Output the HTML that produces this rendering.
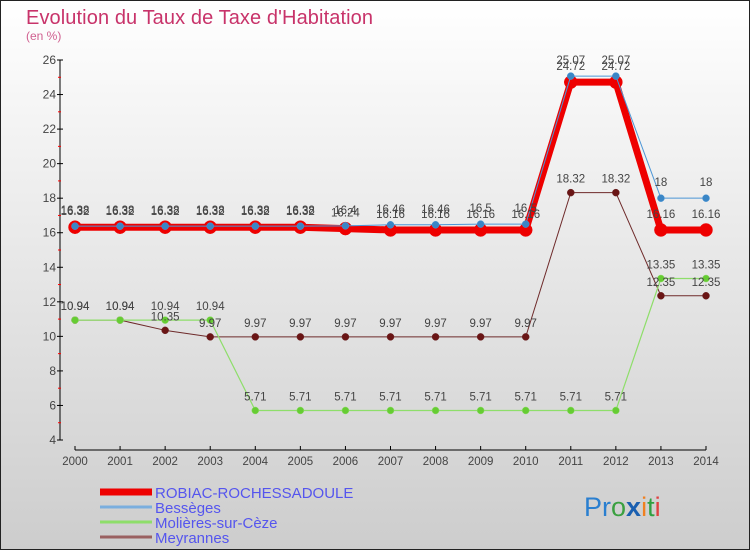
<!DOCTYPE html>
<html><head><meta charset="utf-8">
<style>
body{margin:0;padding:0}
#wrap{width:750px;height:550px;position:relative;overflow:hidden;font-family:"Liberation Sans","DejaVu Sans",sans-serif}
svg text{font-family:"Liberation Sans","DejaVu Sans",sans-serif}
</style></head>
<body>
<div id="wrap">
<svg id="chart" width="750" height="550" xmlns="http://www.w3.org/2000/svg">
<defs>
<linearGradient id="bg" x1="0" y1="0" x2="0" y2="1">
<stop offset="0" stop-color="#ffffff"/><stop offset="1" stop-color="#cdcdcd"/>
</linearGradient>
</defs>
<rect x="0.5" y="0.5" width="749" height="549" fill="url(#bg)" stroke="#222"/>
<text x="26" y="24" font-size="20" fill="#c8336a" textLength="347">Evolution du Taux de Taxe d'Habitation</text>
<text x="26" y="40" font-size="12" fill="#d06090">(en %)</text>
<g id="axes"></g>
<g id="series"></g>
<g id="labels"></g>
<g id="legend"></g>
<text x="584" y="516" font-size="27"><tspan fill="#2a7fd0">Pr</tspan><tspan fill="#3aa040">o</tspan><tspan fill="#1a5fb0" font-weight="bold">x</tspan><tspan fill="#f08020">i</tspan><tspan fill="#30a040">t</tspan><tspan fill="#e04040">i</tspan></text>
</svg>
</div>
<script>
const years = [2000,2001,2002,2003,2004,2005,2006,2007,2008,2009,2010,2011,2012,2013,2014];
const robiac = [16.32,16.32,16.32,16.32,16.32,16.32,16.24,16.16,16.16,16.16,16.16,24.72,24.72,16.16,16.16];
const besseges = [16.38,16.38,16.38,16.38,16.38,16.38,16.4,16.46,16.46,16.5,16.5,25.07,25.07,18,18];
const molieres = [10.94,10.94,10.94,10.94,5.71,5.71,5.71,5.71,5.71,5.71,5.71,5.71,5.71,13.35,13.35];
const meyrannes = [10.94,10.94,10.35,9.97,9.97,9.97,9.97,9.97,9.97,9.97,9.97,18.32,18.32,12.35,12.35];
const yTicks = [4,6,8,10,12,14,16,18,20,22,24,26];
const seriesNames = ["ROBIAC-ROCHESSADOULE","Bessèges","Molières-sur-Cèze","Meyrannes"];

const NS="http://www.w3.org/2000/svg";
const X0=75, X1=706, Y0=440, Y1=60, YMIN=4, YMAX=26;
function xs(i){return X0+(X1-X0)*i/(years.length-1);}
function ys(v){return Y0-(v-YMIN)*(Y0-Y1)/(YMAX-YMIN);}
function mk(tag,attrs,parent){const e=document.createElementNS(NS,tag);for(const k in attrs)e.setAttribute(k,attrs[k]);parent.appendChild(e);return e;}

const axes=document.getElementById('axes');
let yl=mk('line',{x1:60,y1:Y1,x2:60,y2:Y0,stroke:'#000','stroke-width':1},axes);


let xl=mk('line',{x1:X0,y1:450,x2:X1,y2:450,stroke:'#000','stroke-width':1},axes);


yTicks.forEach(t=>{
  const y=ys(t);
  mk('line',{x1:57,y1:y,x2:63,y2:y,stroke:'#000'},axes);
  if(t<YMAX) mk('line',{x1:58,y1:ys(t+1),x2:61,y2:ys(t+1),stroke:'#f00'},axes);
  const tx=mk('text',{x:56,y:y+4,'font-size':12,'text-anchor':'end',fill:'#444'},axes);
  tx.textContent=t;
  
  
});
years.forEach((yr,i)=>{
  const x=xs(i);
  mk('line',{x1:x,y1:446,x2:x,y2:450,stroke:'#000'},axes);
  const tx=mk('text',{x:x,y:465,'font-size':11.5,'text-anchor':'middle',fill:'#444'},axes);
  tx.textContent=yr;
  
  
});

const sg=document.getElementById('series'), lg=document.getElementById('labels');
function draw(vals,color,width,r,fill,name,labelDy){
  const pts=vals.map((v,i)=>xs(i)+','+ys(v)).join(' ');
  const pl=mk('polyline',{points:pts,fill:'none',stroke:color,'stroke-width':width,'stroke-linejoin':'round'},sg);
  
  
  vals.forEach((v,i)=>{
    const c=mk('circle',{cx:xs(i),cy:ys(v),r:r,fill:fill,stroke:color,'stroke-width':0.5},sg);
    
    
    const t=mk('text',{x:xs(i),y:ys(v)+labelDy,'font-size':11.5,'text-anchor':'middle',fill:'#444'},lg);
    t.textContent=v;
    
    
  });
}
draw(meyrannes,'#6e2a2a',1,3.5,'#6a1515','meyrannes',-10);
draw(molieres,'#8ede6a',1.2,3.5,'#66cc33','molieres',-10);
draw(robiac,'#ee0000',7,6.5,'#ee0000','robiac',-12);
draw(besseges,'#4c96d6',1,3.5,'#3a86c6','besseges',-12);

const leg=document.getElementById('legend');
const legColors=['#ee0000','#7aaede','#8ede6a','#9a6060'];
const legW=[7,3,3,3];
seriesNames.forEach((n,i)=>{
  const y=492+i*15;
  const l=mk('line',{x1:100,y1:y,x2:152,y2:y,stroke:legColors[i],'stroke-width':legW[i]},leg);
  
  
  const t=mk('text',{x:155,y:y+6,'font-size':15,fill:'#5555ee'},leg);
  t.textContent=n;
  
  
});
</script>
</body></html>
